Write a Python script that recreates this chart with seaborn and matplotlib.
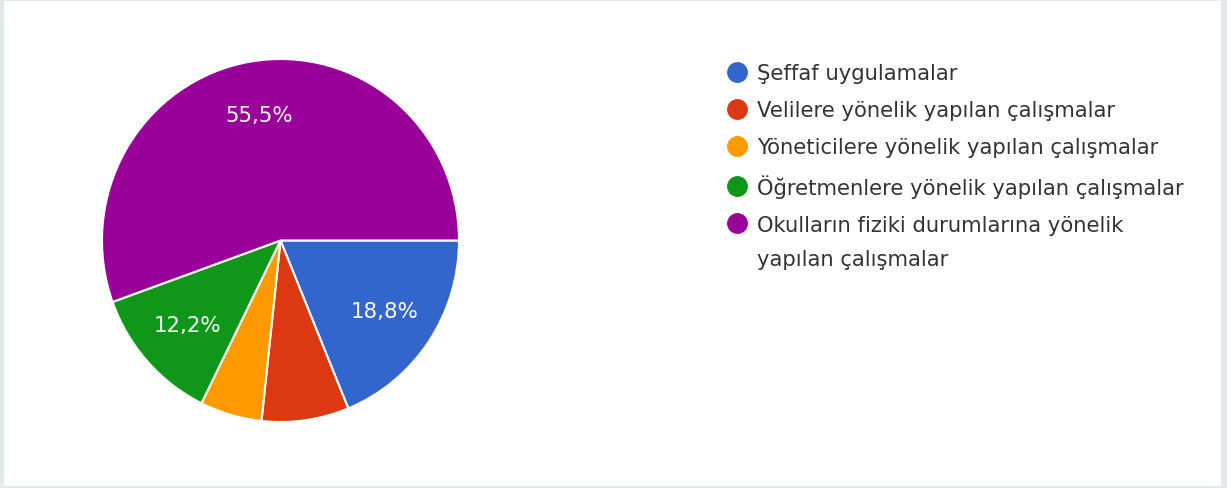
import matplotlib
matplotlib.use("Agg")
import matplotlib.pyplot as plt
from matplotlib.lines import Line2D
from matplotlib.patches import Rectangle
import seaborn as sns

categories = [
    "Şeffaf uygulamalar",
    "Velilere yönelik yapılan çalışmalar",
    "Yöneticilere yönelik yapılan çalışmalar",
    "Öğretmenlere yönelik yapılan çalışmalar",
    "Okulların fiziki durumlarına yönelik",
]
label_continuation = "yapılan çalışmalar"
values = [18.8, 7.9, 5.6, 12.2, 55.5]
colors = ["#3366cc", "#dc3912", "#ff9900", "#109618", "#990099"]

sns.set_theme(style="white")
plt.rcParams["font.family"] = ["DejaVu Sans"]
palette = sns.color_palette(colors)

W, H = 1227, 489
fig = plt.figure(figsize=(W / 100, H / 100), dpi=100)
fig.patch.set_facecolor("#e3e8eb")
fig.patches.append(Rectangle((4 / W, 2 / H), (1221 - 4) / W, (487 - 2) / H,
                             transform=fig.transFigure, facecolor="white",
                             edgecolor="none", zorder=-10))

cx, cy, rx, ry = 280.5, 241.5, 178.5, 181.5
ax = fig.add_axes([(cx - rx) / W, (H - cy - ry) / H, 2 * rx / W, 2 * ry / H])
ax.set_facecolor("none")


def fmt(p):
    return (f"{p:.1f}%".replace(".", ",")) if p >= 10 else ""


wedges, texts, autotexts = ax.pie(
    values, colors=palette, startangle=0, counterclock=False,
    autopct=fmt, pctdistance=0.7,
    wedgeprops=dict(edgecolor="white", linewidth=1.5),
    textprops=dict(color="white", fontsize=15.3),
    frame=False,
)
ax.set_xlim(-1.0, 1.0)
ax.set_ylim(-1.0, 1.0)
ax.set_aspect("auto")

fs = 15.2
handles = [Line2D([0], [0], marker="o", linestyle="none", markersize=14,
                  markerfacecolor=c, markeredgecolor=c) for c in palette]
leg = fig.legend(handles, categories, loc="upper left",
                 bbox_to_anchor=(726.5 / W, 1 - 64.5 / H), frameon=False,
                 fontsize=fs, labelcolor="#333333", handletextpad=0.45,
                 handlelength=1.0, labelspacing=0.8, borderaxespad=0,
                 borderpad=0)

fig.canvas.draw()
renderer = fig.canvas.get_renderer()
bb = leg.get_texts()[-1].get_window_extent(renderer)
inv = fig.transFigure.inverted()
x0, y0 = inv.transform((bb.x0, bb.y0))
fig.text(x0, y0 - 34 / H, label_continuation, fontsize=fs, color="#333333",
         ha="left", va="bottom")

fig.savefig("out.png", dpi=100, facecolor=fig.get_facecolor())
